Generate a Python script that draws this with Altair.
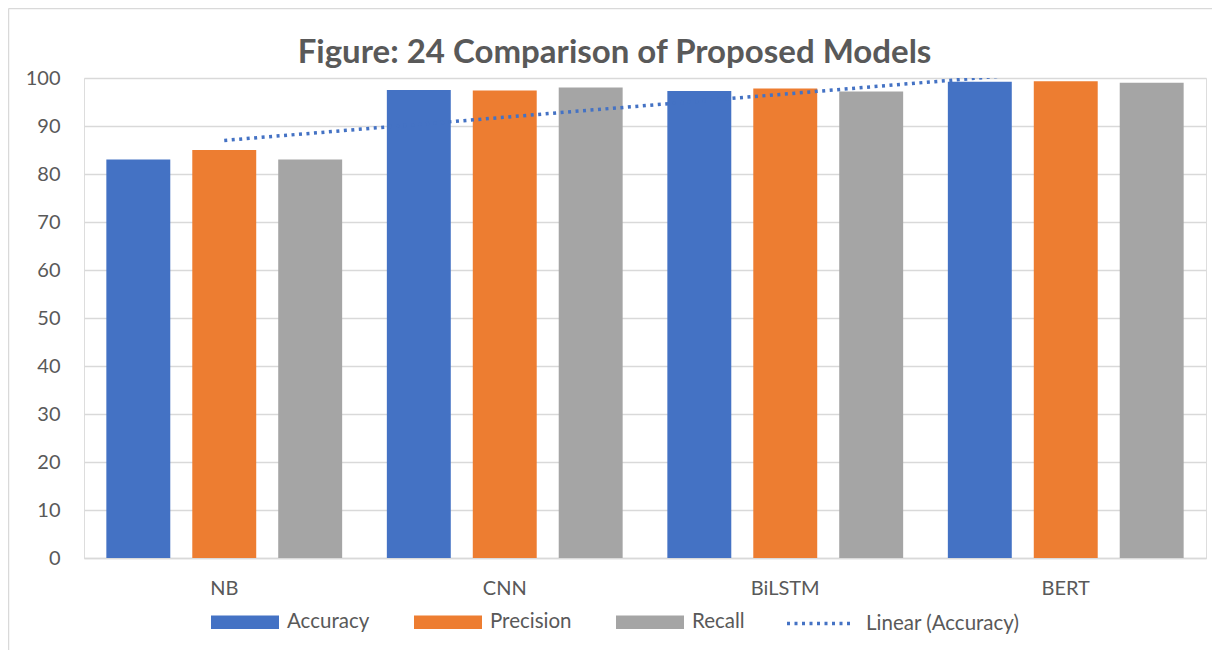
import altair as alt
import pandas as pd
import numpy as np

models = ["NB", "CNN", "BiLSTM", "BERT"]
metrics = ["Accuracy", "Precision", "Recall"]
accuracy = [83.0, 97.5, 97.3, 99.2]
precision = [85.0, 97.4, 97.8, 99.3]
recall = [83.0, 98.0, 97.2, 99.0]
y_ticks = list(range(0, 101, 10))
colors = ["#4472C4", "#ED7D31", "#A5A5A5"]
trend_label = "Linear (Accuracy)"
title_text = "Figure: 24 Comparison of Proposed Models"

rows = []
for m, a, p, r in zip(models, accuracy, precision, recall):
    for name, v in zip(metrics, [a, p, r]):
        rows.append({"model": m, "metric": name, "value": v})
df = pd.DataFrame(rows)

xs = np.arange(1, len(models) + 1)
slope, intercept = np.polyfit(xs, accuracy, 1)
trend_df = pd.DataFrame({"model": models, "trend": slope * xs + intercept, "label": trend_label})

FONT = "Lato"
TXT = "#595959"
GRID = "#D9D9D9"
W, H = 1122, 480

x_enc = alt.X("model:N", sort=models, title=None,
              scale=alt.Scale(paddingInner=0, paddingOuter=0),
              axis=alt.Axis(labelAngle=0, labelFontSize=20, labelColor=TXT, labelFont=FONT,
                            ticks=False, labelPadding=20, domain=True, domainColor=GRID,
                            domainWidth=1.5, grid=False))
y_enc = alt.Y("value:Q", title=None,
              scale=alt.Scale(domain=[0, 100], nice=False),
              axis=alt.Axis(values=y_ticks, labelFontSize=20, labelColor=TXT, labelFont=FONT,
                            ticks=False, labelPadding=24, domain=False, grid=True,
                            gridColor=GRID, gridWidth=1.5))

bars = alt.Chart(df).mark_bar().encode(
    x=x_enc,
    y=y_enc,
    xOffset=alt.XOffset("metric:N", sort=metrics,
                        scale=alt.Scale(paddingInner=0.256, paddingOuter=0.26)),
    color=alt.Color("metric:N", sort=metrics,
                    scale=alt.Scale(domain=metrics, range=colors),
                    legend=alt.Legend(title=None, orient="none", direction="horizontal",
                                      columns=3, legendX=127, legendY=510,
                                      symbolType="M-1,-0.2H1V0.2H-1Z", symbolSize=4624,
                                      symbolStrokeWidth=0, labelFontSize=20.5, labelColor=TXT,
                                      labelFont=FONT, labelOffset=8, columnPadding=44,
                                      padding=0)),
)

trend = alt.Chart(trend_df).mark_line(clip=True, strokeWidth=3.5, color="#4472C4").encode(
    x=alt.X("model:N", sort=models),
    y=alt.Y("trend:Q"),
    strokeDash=alt.StrokeDash("label:N",
                              scale=alt.Scale(domain=[trend_label], range=[[3, 4.5]]),
                              legend=alt.Legend(title=None, orient="none", legendX=701,
                                                legendY=512, symbolType="stroke",
                                                symbolSize=3969, symbolStrokeColor="#4472C4",
                                                symbolStrokeWidth=3.5, labelFontSize=20.5,
                                                labelColor=TXT, labelFont=FONT,
                                                labelOffset=14, padding=0)),
)

title = alt.Chart(alt.Data(values=[{"t": title_text}])).mark_text(
    font=FONT, fontSize=33, fontWeight="bold", color=TXT, align="center",
    baseline="alphabetic").encode(
    text="t:N", x=alt.value(530.5), y=alt.value(-15))

border_top = alt.Chart(alt.Data(values=[{}])).mark_rule(color=GRID, strokeWidth=1.5).encode(
    x=alt.value(-75.5), x2=alt.value(W + 20), y=alt.value(-69.5))
border_left = alt.Chart(alt.Data(values=[{}])).mark_rule(color=GRID, strokeWidth=1.5).encode(
    x=alt.value(-75.5), y=alt.value(-69.5), y2=alt.value(H + 92))

chart = alt.layer(border_top, border_left, title, bars, trend).properties(
    width=W, height=H,
    autosize=alt.AutoSizeParams(type="none"),
    padding={"left": 76, "top": 70, "right": 6, "bottom": 92},
).configure_view(stroke=None).configure(background="white")

chart.save("out.html", embed_options={"renderer": "svg", "actions": False})
